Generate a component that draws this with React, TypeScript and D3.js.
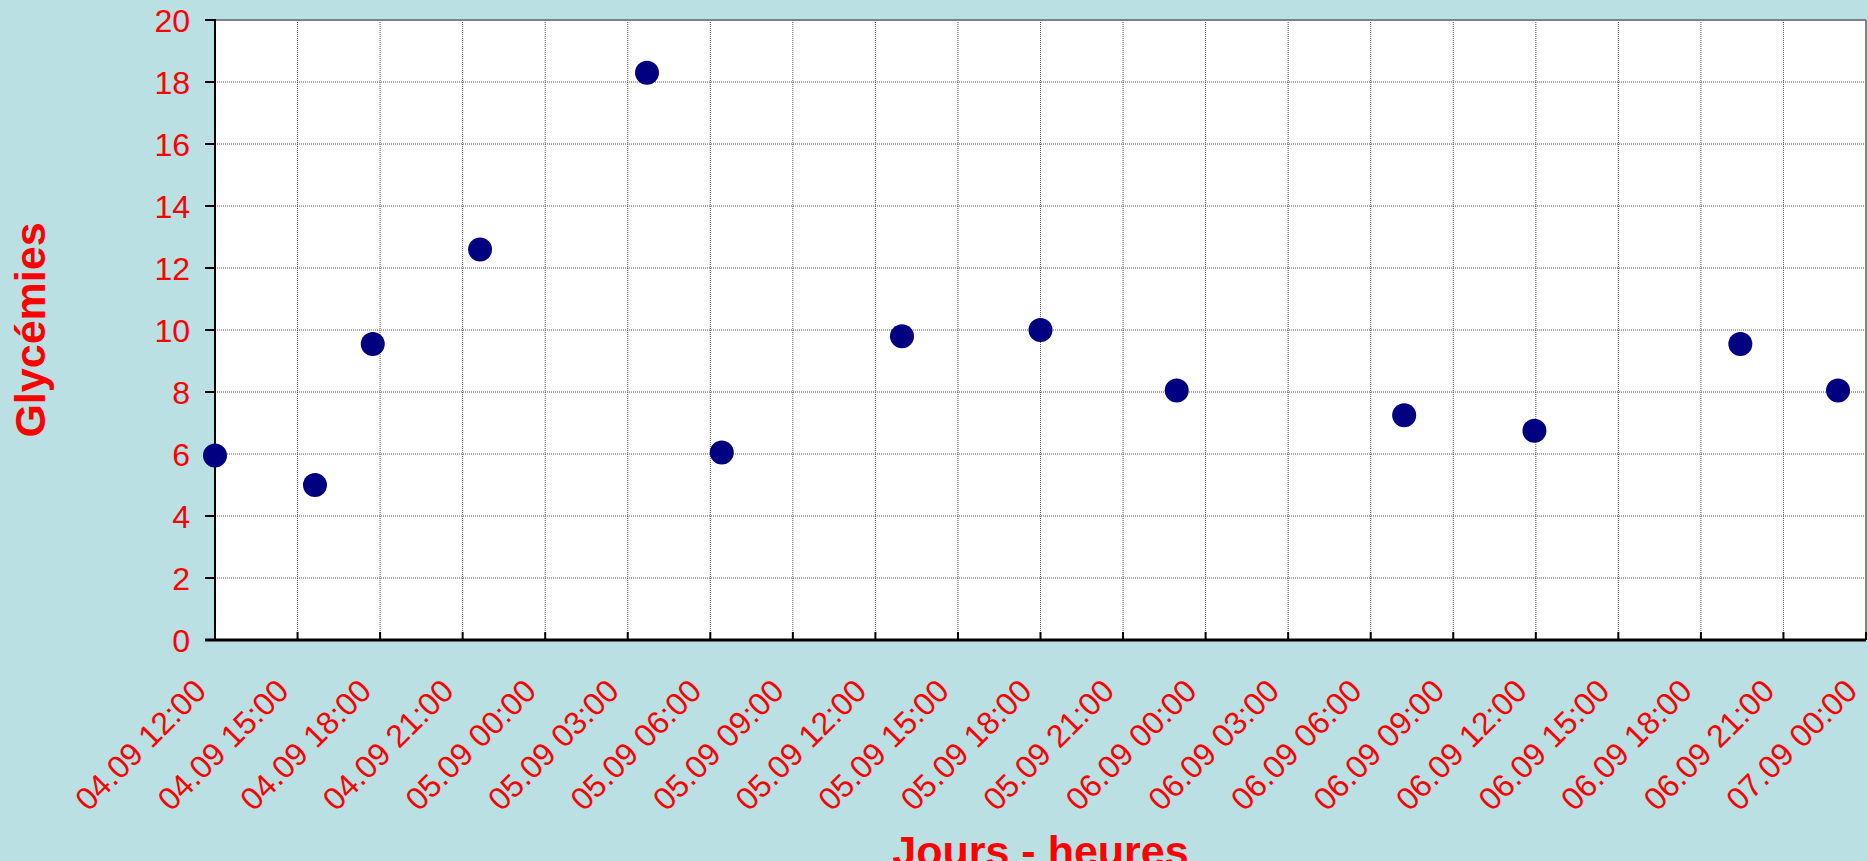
import * as d3 from 'd3';

// readings: time (dd.mm hh:mm) and glycemia value
const times = [
  '2007-09-04T12:00',
  '2007-09-04T15:38',
  '2007-09-04T17:44',
  '2007-09-04T21:38',
  '2007-09-05T03:42',
  '2007-09-05T06:25',
  '2007-09-05T12:58',
  '2007-09-05T18:00',
  '2007-09-05T22:57',
  '2007-09-06T07:13',
  '2007-09-06T11:57',
  '2007-09-06T19:26',
  '2007-09-06T22:59',
];
const values = [5.95, 5.0, 9.55, 12.6, 18.3, 6.05, 9.8, 10.0, 8.05, 7.25, 6.75, 9.55, 8.05];

const xDomain = ['2007-09-04T12:00', '2007-09-07T00:00'];
const yTicks = [0, 2, 4, 6, 8, 10, 12, 14, 16, 18, 20];

const W = 1868;
const H = 861;
const left = 215;
const right = 1866;
const top = 20;
const bottom = 640;

const red = '#ff0000';
const font = '"Liberation Sans", Arial, sans-serif';

export default function App() {
  const x = d3
    .scaleTime()
    .domain(xDomain.map((d) => new Date(d)))
    .range([left, right]);
  const y = d3.scaleLinear().domain([0, 20]).range([bottom, top]);
  const xTicks = x.ticks(d3.timeHour.every(3)!);
  const fmt = d3.timeFormat('%d.%m %H:%M');

  const points = times.map((t, i) => ({ t: new Date(t), v: values[i] }));

  return (
    <div style={{ position: 'absolute', left: 0, top: 0 }}>
      <svg width={W} height={H} style={{ display: 'block' }}>
        <rect width={W} height={H} fill="#bbe0e3" />
        <rect x={left} y={top} width={right - left} height={bottom - top} fill="#fff" />

        {/* grid */}
        {yTicks.slice(1, -1).map((t) => (
          <line
            key={'gy' + t}
            x1={left}
            x2={right}
            y1={y(t)}
            y2={y(t)}
            stroke="#555"
            strokeWidth={1}
            strokeDasharray="1 1"
          />
        ))}
        {xTicks.slice(1, -1).map((t) => (
          <line
            key={'gx' + t.getTime()}
            x1={x(t)}
            x2={x(t)}
            y1={top}
            y2={bottom}
            stroke="#555"
            strokeWidth={1}
            strokeDasharray="1 1"
          />
        ))}
        <line x1={left} x2={right} y1={top} y2={top} stroke="#808080" strokeWidth={2} />
        <line x1={right} x2={right} y1={top} y2={bottom} stroke="#808080" strokeWidth={2} />

        {/* y axis */}
        <line x1={left} x2={left} y1={top - 1} y2={bottom} stroke="#000" strokeWidth={2} />
        {yTicks.map((t) => (
          <g key={'yt' + t}>
            <line x1={left - 10} x2={left} y1={y(t)} y2={y(t)} stroke="#000" strokeWidth={2} />
            <text
              x={190}
              y={y(t)}
              dy="0.36em"
              textAnchor="end"
              fill={red}
              fontSize={32}
              fontFamily={font}
            >
              {t}
            </text>
          </g>
        ))}

        {/* x axis */}
        <line x1={left - 10} x2={right} y1={bottom} y2={bottom} stroke="#000" strokeWidth={3} />
        {xTicks.map((t) => (
          <g key={'xt' + t.getTime()}>
            <line x1={x(t)} x2={x(t)} y1={bottom - 8} y2={bottom} stroke="#000" strokeWidth={2} />
            <text
              transform={`translate(${x(t) - 7},${bottom + 53}) rotate(-45)`}
              textAnchor="end"
              fill={red}
              fontSize={32}
              fontFamily={font}
            >
              {fmt(t)}
            </text>
          </g>
        ))}

        {/* points */}
        {points.map((p, i) => (
          <circle key={i} cx={x(p.t)} cy={y(p.v)} r={12} fill="#000080" />
        ))}

        {/* titles */}
        <text
          transform={`translate(45,${(top + bottom) / 2}) rotate(-90)`}
          textAnchor="middle"
          fill={red}
          fontSize={43}
          fontWeight="bold"
          fontFamily={font}
        >
          Glycémies
        </text>
        <text
          x={(left + right) / 2}
          y={866}
          textAnchor="middle"
          fill={red}
          fontSize={43}
          fontWeight="bold"
          fontFamily={font}
        >
          Jours - heures
        </text>
      </svg>
    </div>
  );
}
